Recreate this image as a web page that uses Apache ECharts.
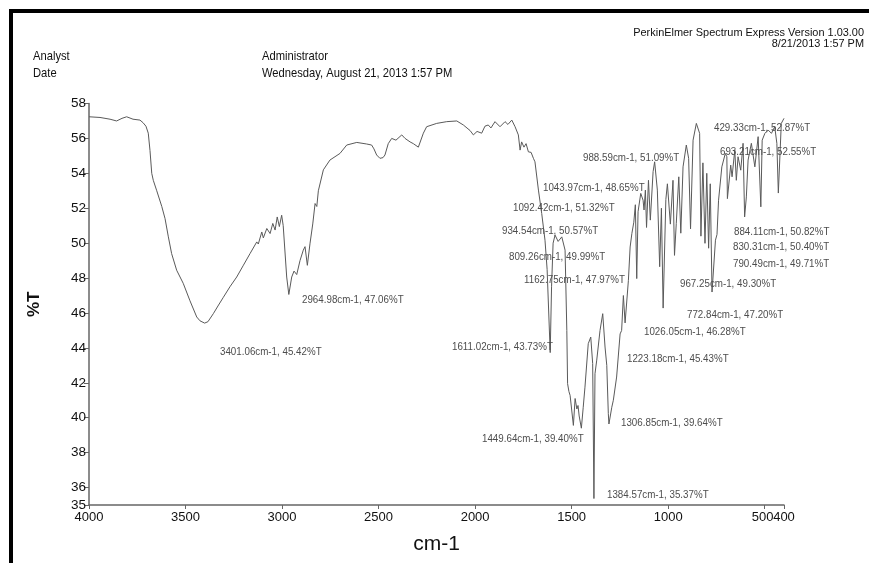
<!DOCTYPE html>
<html>
<head>
<meta charset="utf-8">
<script src="https://cdn.jsdelivr.net/npm/echarts@6/dist/echarts.min.js"></script>
<style>
  html, body { margin: 0; padding: 0; background: #fff; }
  #chart { width: 869px; height: 563px; }
</style>
</head>
<body>
<div id="chart"></div>
<script>
// Fonts
const SANS = '"Liberation Sans", Arial, sans-serif';

// Axis tick values
const xTicks = [4000, 3500, 3000, 2500, 2000, 1500, 1000, 500];
const xEndTick = [400];
const yTicks = [35, 36, 38, 40, 42, 44, 46, 48, 50, 52, 54, 56, 58];

// Sampled IR trace between the picked peaks (wavenumber cm-1, transmittance %T)
const traceWn = [
  4000, 3943, 3891, 3857, 3829, 3805, 3772, 3736, 3720, 3705, 3693, 3684, 3675, 3667, 3649, 3623,
  3606, 3589, 3572, 3546, 3512, 3477, 3442, 3425, 3384, 3356, 3332, 3304, 3270, 3235, 3202, 3166,
  3131, 3123, 3105, 3097, 3079, 3062, 3048, 3036, 3025, 3014, 3002, 2994, 2976, 2950, 2938, 2924,
  2907, 2890, 2881, 2869, 2855, 2841, 2829, 2820, 2812, 2786, 2752, 2700, 2665, 2613, 2562, 2536,
  2524, 2510, 2493, 2477, 2467, 2450, 2432, 2410, 2380, 2363, 2337, 2320, 2294, 2268, 2251, 2199,
  2147, 2095, 2061, 2026, 2009, 1990, 1966, 1949, 1932, 1918, 1897, 1871, 1845, 1830, 1810, 1793,
  1776, 1767, 1759, 1747, 1736, 1724, 1710, 1698, 1690, 1672, 1655, 1638, 1627, 1604, 1596, 1586,
  1570, 1551, 1534, 1525, 1521, 1514, 1508, 1500, 1491, 1482, 1473, 1467, 1461, 1440, 1431, 1414,
  1401, 1391, 1379, 1370, 1353, 1339, 1327, 1318, 1310, 1292, 1284, 1267, 1249, 1241, 1232, 1206,
  1197, 1188, 1178, 1170, 1156, 1142, 1130, 1125, 1118, 1112, 1102, 1078, 1070, 1056, 1035, 1012,
  1004, 975, 958, 945, 923, 906, 894, 871, 854, 837, 820, 800, 782, 755, 747, 739,
  722, 704, 696, 676, 669, 655, 647, 638, 624, 612, 604, 595, 586, 569, 551, 534,
  520, 513, 499, 482, 465, 448, 437, 414, 400
];
const traceT = [
  57.24, 57.2, 57.1, 57.0, 57.15, 57.24, 57.1, 57.05, 56.9, 56.7, 56.3, 55.3, 54.0, 53.6, 53.0, 52.1,
  51.4, 50.36, 49.4, 48.45, 47.7, 46.7, 45.77, 45.55, 45.5, 45.96, 46.4, 46.9, 47.5, 48.06, 48.7, 49.4,
  50.07, 49.95, 50.64, 50.3, 50.84, 50.55, 51.13, 50.75, 51.5, 50.95, 51.6, 51.0, 48.06, 48.06, 48.4, 48.2,
  49.0, 49.6, 49.8, 48.73, 50.0, 51.1, 52.27, 52.1, 53.0, 54.2, 54.76, 55.14, 55.62, 55.77, 55.68, 55.62,
  55.4, 55.05, 54.86, 54.9, 55.05, 55.7, 56.0, 55.9, 56.2, 56.0, 55.8, 55.7, 55.5, 56.3, 56.67, 56.86,
  56.96, 57.0, 56.77, 56.45, 56.2, 56.4, 56.3, 56.7, 56.77, 56.6, 56.96, 56.67, 56.96, 56.8, 57.05, 56.67,
  56.2, 55.33, 55.8, 55.5, 55.7, 55.23, 55.2, 54.86, 54.66, 53.04, 51.7, 50.17, 48.5, 47.5, 50.0, 50.46,
  50.1, 50.36, 49.6, 45.0, 41.95, 41.5, 41.28, 41.2, 39.56, 41.1, 40.5, 40.7, 40.1, 40.6, 41.75, 44.24,
  44.62, 43.1, 42.52, 43.3, 45.0, 45.96, 44.05, 43.0, 40.23, 40.6, 41.0, 42.33, 44.8, 45.0, 47.0, 47.87,
  49.78, 50.55, 51.2, 52.2, 51.8, 52.85, 52.46, 51.9, 53.04, 50.9, 53.6, 54.1, 54.66, 53.04, 52.0, 52.5,
  53.4, 53.6, 51.13, 53.8, 54.37, 55.62, 54.86, 55.9, 56.86, 56.29, 54.6, 54.0, 53.4, 50.17, 50.5, 52.46,
  54.37, 55.14, 54.95, 54.47, 53.8, 55.33, 53.6, 54.95, 54.18, 55.72, 51.5, 52.65, 54.76, 55.72, 54.37, 56.1,
  52.08, 55.9, 56.29, 56.48, 56.29, 56.67, 55.72, 56.86, 57.15
];

// Peaks picked by the instrument software
const peakWn = [3401.06, 2964.98, 1611.02, 1449.64, 1384.57, 1306.85, 1223.18, 1162.75, 1092.42, 1043.97,
  1026.05, 988.59, 967.25, 934.54, 884.11, 830.31, 809.26, 790.49, 772.84, 693.21, 429.33];
const peakT = [45.42, 47.06, 43.73, 39.40, 35.37, 39.64, 45.43, 47.97, 51.32, 48.65,
  46.28, 51.09, 49.30, 50.57, 50.82, 50.40, 49.99, 49.71, 47.20, 52.55, 52.87];

// Caption placement on the page for each peak (left x, middle y), same order as the peaks
const peakCaptionAt = [
  [220, 352], [302, 300], [452, 347], [482, 439], [607, 495], [621, 423], [627, 359], [524, 280],
  [513, 208], [543, 188], [644, 332], [583, 158], [680, 284], [502, 231], [734, 232], [733, 247],
  [509, 257], [733, 264], [687, 315], [720, 152], [714, 128]
];

// Merge trace and peaks into one ordered spectrum
const spectrum = traceWn.map((w, i) => [w, traceT[i]])
  .concat(peakWn.map((w, i) => [w, peakT[i]]))
  .sort((a, b) => b[0] - a[0]);

const chart = echarts.init(document.getElementById('chart'), null, { renderer: 'canvas' });

// Condensed-looking text: regular sans squeezed horizontally
function squeezedText(x, y, text, size, squeeze, extra) {
  return {
    type: 'text', x: x, y: y, scaleX: squeeze, z: 10,
    style: Object.assign({
      text: text, fontSize: size, fontFamily: SANS, fill: '#111',
      align: 'left', verticalAlign: 'middle'
    }, extra || {})
  };
}

const captions = peakWn.map((w, i) => squeezedText(
  peakCaptionAt[i][0], peakCaptionAt[i][1],
  w.toFixed(2) + 'cm-1, ' + peakT[i].toFixed(2) + '%T',
  11.5, 0.85, { fill: '#4d4d4d' }
));

const header = [
  { type: 'rect', shape: { x: 9, y: 9, width: 860, height: 4 }, style: { fill: '#000' } },
  { type: 'rect', shape: { x: 9, y: 9, width: 4, height: 554 }, style: { fill: '#000' } },
  squeezedText(33, 56, 'Analyst', 13, 0.86),
  squeezedText(33, 73, 'Date', 13, 0.86),
  squeezedText(262, 56, 'Administrator', 13, 0.86),
  squeezedText(262, 73, 'Wednesday, August 21, 2013 1:57 PM', 13, 0.86),
  {
    type: 'text', x: 864, y: 33, scaleX: 0.95,
    style: { text: 'PerkinElmer Spectrum Express Version 1.03.00', fontSize: 11.5, fontFamily: SANS,
      fill: '#111', align: 'right', verticalAlign: 'middle' }
  },
  {
    type: 'text', x: 864, y: 44, scaleX: 0.95,
    style: { text: '8/21/2013 1:57 PM', fontSize: 11.5, fontFamily: SANS,
      fill: '#111', align: 'right', verticalAlign: 'middle' }
  }
];

const xLabelStyle = { fontSize: 13, fontFamily: SANS, color: '#111' };
const axisStroke = { color: '#666', width: 1.5 };

chart.setOption({
  animation: false,
  backgroundColor: '#fff',
  grid: { left: 89, right: 85, top: 103.5, bottom: 58, containLabel: false },
  xAxis: [{
    type: 'value',
    position: 'bottom',
    inverse: true,
    min: 400,
    max: 4000,
    name: 'cm-1',
    nameLocation: 'middle',
    nameGap: 29,
    nameTextStyle: { fontSize: 21, fontFamily: SANS, color: '#111' },
    axisLine: { show: true, lineStyle: axisStroke },
    axisTick: { show: true, length: 4, lineStyle: { color: '#666' }, customValues: xTicks },
    axisLabel: Object.assign({
      customValues: xTicks,
      margin: 6,
      // 500 leans left so it butts up against the 400 label
      formatter: v => (v === 500 ? '{lean|500}' : String(v)),
      rich: { lean: { fontSize: 13, fontFamily: SANS, color: '#111', padding: [0, 4, 0, 0] } }
    }, xLabelStyle),
    splitLine: { show: false }
  }, {
    // end-of-range tick at 400 cm-1, on its own axis so it can sit flush against 500
    type: 'value',
    position: 'bottom',
    inverse: true,
    min: 400,
    max: 4000,
    axisLine: { show: false },
    axisTick: { show: true, length: 4, lineStyle: { color: '#666' }, customValues: xEndTick },
    axisLabel: Object.assign({ customValues: xEndTick, margin: 6, formatter: v => String(v) }, xLabelStyle),
    splitLine: { show: false }
  }],
  yAxis: {
    type: 'value',
    min: 35,
    max: 58,
    name: '%T',
    nameLocation: 'middle',
    nameRotate: 90,
    nameGap: 46,
    nameTextStyle: { fontSize: 17, fontWeight: 'bold', fontFamily: SANS, color: '#111' },
    axisLine: { show: true, lineStyle: axisStroke },
    axisTick: { show: true, length: 5, lineStyle: { color: '#666' }, customValues: yTicks },
    axisLabel: {
      customValues: yTicks, margin: 3, formatter: v => String(v),
      fontSize: 13.5, fontFamily: SANS, color: '#111'
    },
    splitLine: { show: false }
  },
  series: [{
    type: 'line',
    xAxisIndex: 0,
    data: spectrum,
    showSymbol: false,
    smooth: false,
    lineStyle: { color: '#5a5a5a', width: 1 },
    silent: true
  }],
  graphic: header.concat(captions)
});
</script>
</body>
</html>
